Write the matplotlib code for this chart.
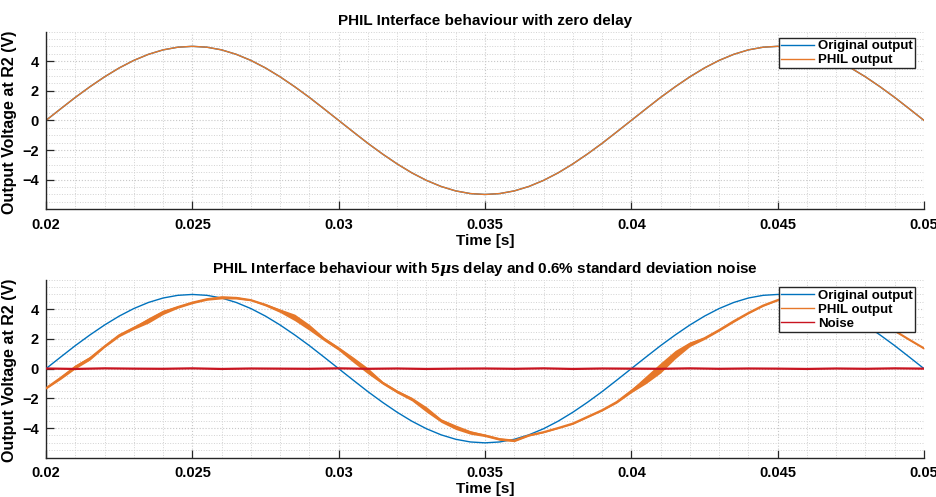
import numpy as np
import matplotlib
matplotlib.use('Agg')
import matplotlib.pyplot as plt
from matplotlib.ticker import MultipleLocator

# time axis, 0.5 ms steps from 0.02 s to 0.05 s
t_start = 0.02
t_step = 0.0005

# original output (V)
original = [0.00, 0.78, 1.55, 2.27, 2.94, 3.54, 4.05, 4.46, 4.76, 4.94,
            5.00, 4.94, 4.76, 4.46, 4.05, 3.54, 2.94, 2.27, 1.55, 0.78,
            0.00, -0.78, -1.55, -2.27, -2.94, -3.54, -4.05, -4.46, -4.76, -4.94,
            -5.00, -4.94, -4.76, -4.46, -4.05, -3.54, -2.94, -2.27, -1.55, -0.78,
            0.00, 0.78, 1.55, 2.27, 2.94, 3.54, 4.05, 4.46, 4.76, 4.94,
            5.00, 4.94, 4.76, 4.46, 4.05, 3.54, 2.94, 2.27, 1.55, 0.78, 0.00]

# PHIL output with zero delay (lies on top of the original)
phil_zero = list(original)

# PHIL output with delay + noise: centre of the orange band (V)
phil_delay = [-1.32, -0.62, 0.12, 0.70, 1.50, 2.25, 2.75, 3.25, 3.80, 4.15,
              4.45, 4.68, 4.80, 4.77, 4.62, 4.30, 3.90, 3.45, 2.78, 2.00,
              1.35, 0.60, -0.15, -0.95, -1.55, -2.05, -2.75, -3.50, -3.95, -4.30,
              -4.50, -4.75, -4.85, -4.50, -4.28, -4.00, -3.70, -3.25, -2.80, -2.25,
              -1.50, -0.75, 0.05, 0.95, 1.65, 2.05, 2.60, 3.20, 3.75, 4.25,
              4.62, 4.78, 4.82, 4.72, 4.45, 4.10, 3.65, 3.10, 2.55, 1.95, 1.37]

# half thickness of the noisy orange band (V)
phil_band = [0.05, 0.10, 0.13, 0.12, 0.07, 0.10, 0.10, 0.18, 0.15, 0.08,
             0.07, 0.07, 0.10, 0.08, 0.05, 0.08, 0.12, 0.22, 0.20, 0.12,
             0.12, 0.18, 0.20, 0.10, 0.10, 0.12, 0.18, 0.12, 0.15, 0.12,
             0.08, 0.08, 0.07, 0.04, 0.04, 0.04, 0.05, 0.05, 0.05, 0.07,
             0.12, 0.26, 0.34, 0.28, 0.16, 0.08, 0.07, 0.07, 0.05, 0.05,
             0.04, 0.04, 0.04, 0.04, 0.04, 0.04, 0.04, 0.04, 0.04, 0.04, 0.04]

# noise signal (V), 1 ms steps
noise = [0.01, -0.02, 0.02, 0.00, -0.01, 0.02, -0.02, 0.01, 0.00, -0.01,
         0.02, -0.01, 0.01, -0.02, 0.00, 0.01, -0.01, 0.02, -0.02, 0.01,
         0.00, -0.01, 0.02, -0.01, 0.01, 0.00, -0.02, 0.01, -0.01, 0.02, 0.00]

xticks = [0.02, 0.025, 0.03, 0.035, 0.04, 0.045, 0.05]
xticklabels = ['0.02', '0.025', '0.03', '0.035', '0.04', '0.045', '0.05']
yticks = [-4, -2, 0, 2, 4]

titles = ['PHIL Interface behaviour with zero delay',
          'PHIL Interface behaviour with 5$\\mu$s delay and 0.6% standard deviation noise']

t = t_start + t_step * np.arange(len(original))
t_noise = t_start + 0.001 * np.arange(len(noise))

c_blue = '#0072BD'
c_orange = '#E6782A'
c_red = '#C81420'
c_axis = '#262626'

plt.rcParams['font.family'] = ['Liberation Sans', 'DejaVu Sans']
plt.rcParams['font.weight'] = 'bold'
plt.rcParams['mathtext.fontset'] = 'custom'
plt.rcParams['mathtext.it'] = 'DejaVu Serif:italic:bold'

fig = plt.figure(figsize=(9.37, 4.97), dpi=100)
ax1 = fig.add_axes([0.0491, 0.5789, 0.937, 0.3577])
ax2 = fig.add_axes([0.0491, 0.0791, 0.937, 0.3583])


def style_axes(ax, title):
    ax.set_xlim(0.02, 0.05)
    ax.set_ylim(-6, 6)
    ax.set_xticks(xticks)
    ax.set_xticklabels(xticklabels)
    ax.set_yticks(yticks)
    ax.xaxis.set_minor_locator(MultipleLocator(0.001))
    ax.yaxis.set_minor_locator(MultipleLocator(0.5))
    ax.grid(True, which='major', color='#C8C8C8', linestyle=':', linewidth=0.8)
    ax.grid(True, which='minor', color='#D2D2D2', linestyle=':', linewidth=0.7)
    ax.set_axisbelow(True)
    for side in ['top', 'right']:
        ax.spines[side].set_visible(False)
    for side in ['left', 'bottom']:
        ax.spines[side].set_color(c_axis)
        ax.spines[side].set_linewidth(1.0)
    ax.tick_params(which='major', direction='in', length=6, width=0.9,
                   colors=c_axis, labelsize=10.5)
    ax.tick_params(axis='x', which='major', pad=6)
    ax.tick_params(axis='y', which='major', pad=5)
    ax.tick_params(which='minor', length=0)
    for lab in ax.get_xticklabels() + ax.get_yticklabels():
        lab.set_fontweight('bold')
        lab.set_color('black')
    ax.set_xlabel('Time [s]', fontsize=11, fontweight='bold', labelpad=1.5)
    ax.set_ylabel('Output Voltage at R2 (V)', fontsize=11.5, fontweight='bold')
    ax.yaxis.set_label_coords(-0.033, 0.49)
    ax.set_title(title, fontsize=11, fontweight='bold', pad=5)


# top panel
ax1.plot(t, original, color=c_blue, lw=1.0, label='Original output')
ax1.plot(t, phil_zero, color=c_orange, lw=1.0, label='PHIL output')
style_axes(ax1, titles[0])
leg1 = ax1.legend(loc='upper right', bbox_to_anchor=(0.9897, 0.9634), borderaxespad=0,
                  fontsize=9.5, handlelength=2.5, handletextpad=0.35, labelspacing=0.15,
                  borderpad=0.15, fancybox=False, framealpha=1, edgecolor=c_axis)
leg1.get_frame().set_linewidth(1.0)

# bottom panel
ax2.plot(t, original, color=c_blue, lw=1.0, label='Original output', zorder=3)
pd_arr = np.array(phil_delay)
band = np.array(phil_band)
ax2.fill_between(t, pd_arr - band, pd_arr + band, color=c_orange, lw=0, zorder=4)
ax2.plot(t, phil_delay, color=c_orange, lw=1.5, label='PHIL output', zorder=4)
ax2.plot(t_noise, noise, color=c_red, lw=1.6, label='Noise', zorder=5)
style_axes(ax2, titles[1])
leg2 = ax2.legend(loc='upper right', bbox_to_anchor=(0.9897, 0.9567), borderaxespad=0,
                  fontsize=9.5, handlelength=2.5, handletextpad=0.35, labelspacing=0.15,
                  borderpad=0.15, fancybox=False, framealpha=1, edgecolor=c_axis)
leg2.get_frame().set_linewidth(1.0)
for line in leg2.get_lines():
    line.set_linewidth(1.0)

fig.savefig('out.png', dpi=100)
